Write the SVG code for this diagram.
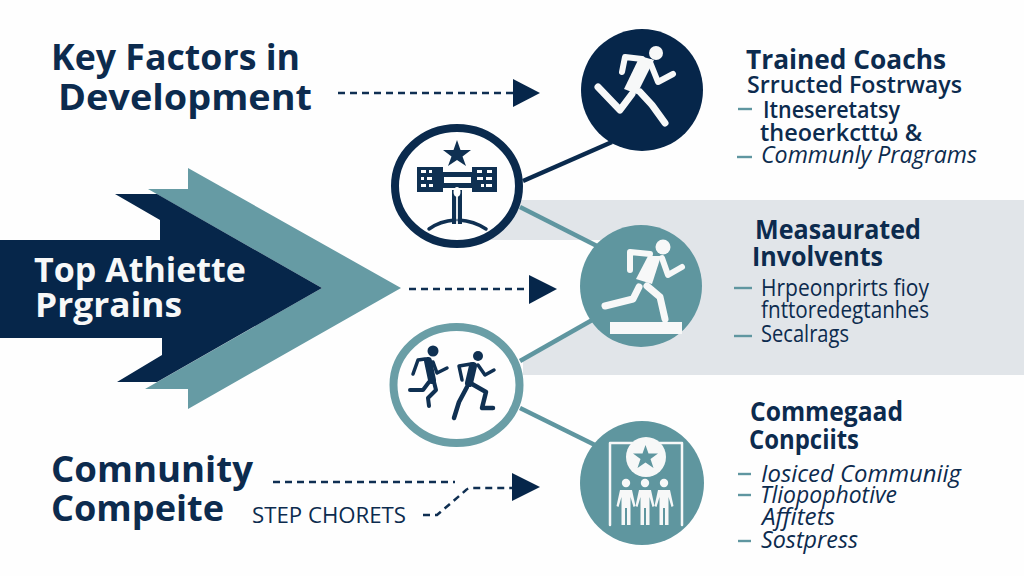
<svg xmlns="http://www.w3.org/2000/svg" width="1024" height="576" viewBox="0 0 1024 576">
<style>
text{fill:#0c2b4e;font-family:"Open Sans","Noto Sans","Liberation Sans",sans-serif}
.h1{font-size:36px;font-weight:700}
.h2{font-size:26px;font-weight:700}
.h3{font-size:24px;font-weight:600}
.b{font-size:23px;font-weight:400}
.i{font-size:23px;font-weight:400;font-style:italic}
.w{fill:#f7f8f8;font-size:34px;font-weight:700}
.dash{fill:none;stroke:#0f2f52;stroke-width:2.500;stroke-dasharray:7 5}
.tri{fill:#06264a}
.link{fill:none;stroke-width:4.5}
.bul{stroke:#5f96a0;stroke-width:2.4;fill:none}
.wl{fill:none;stroke:#f7f8f8;stroke-linecap:round;stroke-linejoin:round}
.nl{fill:none;stroke:#0f3052;stroke-linecap:round;stroke-linejoin:round}
</style>
<defs>
<g id="person">
<circle cx="0" cy="0" r="4.2" fill="#f7f8f8"/>
<path d="M-6 7H6L9.500 23 7.500 24 4.500 14V42H1V25H-1V42H-4.500V14L-7.500 24-9.500 23Z" fill="#f7f8f8"/>
</g>
</defs>
<rect width="1024" height="576" fill="#fefefe"/>
<polygon id="band" points="490,200 1024,200 1024,375 523,375 523,361 600,316 600,240 490,240" fill="#e1e5e9"/>

<g id="connectors">
<path class="link" stroke="#0a2a4d" d="M523 181L612 142"/>
<path class="link" stroke="#5f96a0" d="M520 207L597 246"/>
<path class="link" stroke="#5f96a0" d="M520 361L594 319"/>
<path class="link" stroke="#5f96a0" d="M520 408L597 446"/>
<path class="dash" d="M338 93H513"/>
<path class="dash" d="M409 289H529"/>
<path class="dash" d="M273 482H455"/>
<path class="dash" d="M423 515H437L465 491Q467 488 472 488H512"/>
<polygon class="tri" points="513,79 540,93 513,107"/>
<polygon class="tri" points="529,275 557,289 529,304"/>
<polygon class="tri" points="512,473 540,487 512,501"/>
</g>

<g id="main-arrow">
<polygon points="188,168 401,288 188,409 188,389 145,389 322,288 148,189 188,189" fill="#669ba4"/>
<polygon points="115,194 157,194 322,288 157,382 117,382 162,355 162,338 0,338 0,240 160,240 160,220" fill="#06264a"/>
<text class="w" x="34" y="282" textLength="212" lengthAdjust="spacingAndGlyphs">Top Athiette</text>
<text class="w" x="35" y="317" textLength="147" lengthAdjust="spacingAndGlyphs">Prgrains</text>
</g>

<g id="title-key">
<text class="h1" x="51" y="70" textLength="249" lengthAdjust="spacingAndGlyphs">Key Factors in</text>
<text class="h1" x="58" y="110" textLength="254" lengthAdjust="spacingAndGlyphs">Development</text>
</g>

<g id="title-community">
<text class="h1" x="51" y="482" textLength="202" lengthAdjust="spacingAndGlyphs">Comnunity</text>
<text class="h1" x="51" y="521" textLength="173" lengthAdjust="spacingAndGlyphs">Compeite</text>
<text x="252" y="523" font-size="22" textLength="154" lengthAdjust="spacingAndGlyphs">STEP CHORETS</text>
</g>

<g id="node-runner-top">
<circle cx="642" cy="90" r="61" fill="#06264a"/>
<circle cx="656" cy="53" r="7" fill="#f7f8f8"/>
<polygon points="640,56 654,60 637,94 624,89" fill="#f7f8f8"/>
<path class="wl" stroke-width="6" d="M642 59L625 57 622 72"/>
<path class="wl" stroke-width="6" d="M650 62L658 82 673 74"/>
<path class="wl" stroke-width="7" d="M598 87L620 110 632 94"/>
<path class="wl" stroke-width="7" d="M640 92L652 105 665 123"/>
</g>

<g id="node-runner-mid">
<circle cx="641" cy="286" r="61" fill="#5f969f"/>
<circle cx="663" cy="247" r="7.500" fill="#f7f8f8"/>
<polygon points="648,256 661,256 652,284 636,279" fill="#f7f8f8"/>
<path class="wl" stroke-width="6" d="M650 254L630 252 630 270"/>
<path class="wl" stroke-width="6" d="M662 258L668 275 682 267"/>
<path class="wl" stroke-width="7" d="M639 287L633 299 605 306"/>
<path class="wl" stroke-width="7" d="M647 286L660 297 665 319"/>
<rect x="610" y="322" width="72" height="12" fill="#f7f8f8"/>
</g>

<g id="node-group-bottom">
<circle cx="642" cy="483" r="62" fill="#5f969f"/>
<path class="wl" stroke-width="2.500" d="M610 525V443H682V525"/>
<circle cx="646" cy="457" r="20" fill="#f7f8f8"/>
<polygon points="645.500,445 648.500,453.500 658,453.500 650.500,459 653.500,468 645.500,462.500 637.500,468 640.500,459 633,453.500 642.500,453.500" fill="#5f969f"/>
<use href="#person" x="626" y="483"/>
<use href="#person" x="645" y="483"/>
<use href="#person" x="664" y="483"/>
</g>

<g id="node-scoreboard">
<ellipse cx="457" cy="186" rx="62" ry="58" fill="#fefefe" stroke="#0a2a4d" stroke-width="8"/>
<polygon points="457,140 460.500,150 471,150 462.500,156.500 466,166 457,160 448,166 451.500,156.500 443,150 453.500,150" fill="#0f3052"/>
<rect x="417" y="167" width="26" height="25" fill="#0f3052"/>
<rect x="472" y="167" width="25" height="25" fill="#0f3052"/>
<rect x="443" y="172" width="29" height="16" fill="#0f3052"/>
<rect x="444" y="177" width="27" height="6" fill="#fefefe"/>
<path d="M421 170h5v3h-5zM429 170h3v3h-3zM421 177h3v3h-3zM427 177h5v3h-5zM421 184h5v3h-5zM429 184h4v3h-4zM477 170h5v3h-5zM487 170h5v3h-5zM477 177h6v3h-6zM486 177h6v3h-6zM481 184h3v3h-3zM486 184h6v3h-6z" fill="#fefefe"/>
<rect x="452" y="190" width="10" height="34" fill="#0f3052"/>
<ellipse cx="457" cy="192" rx="3.500" ry="5" fill="#fefefe"/>
<path d="M457 196V224" stroke="#fefefe" stroke-width="1.800"/>
<path class="nl" stroke-width="3.500" d="M429 229Q440 221 455 220M459 220Q474 221 486 229"/>
</g>

<g id="node-runners">
<ellipse cx="456.500" cy="385" rx="63" ry="58" fill="#fefefe" stroke="#6a9ea6" stroke-width="8"/>
<circle cx="433" cy="351" r="5.500" fill="#0f3052"/>
<path class="nl" stroke-width="8" d="M428 361L432 380"/>
<path class="nl" stroke-width="3.500" d="M425 359L418 360 413 374M433 362L437 373 447 368"/>
<path class="nl" stroke-width="4" d="M429 382L423 390 410 390M434 382L436 390 428 398 429 406"/>
<circle cx="478" cy="356" r="5" fill="#0f3052"/>
<path class="nl" stroke-width="8" d="M473 366L469 383"/>
<path class="nl" stroke-width="3.500" d="M471 364L459 366 462 380M478 365L485 375 494 370"/>
<path class="nl" stroke-width="4.500" d="M472 384L486 392 482 408 493 408M467 387L459 402 454 418"/>
</g>

<g id="text-top">
<text class="h2" x="746" y="69" textLength="200" lengthAdjust="spacingAndGlyphs">Trained Coachs</text>
<text class="h3" x="747" y="93" textLength="215" lengthAdjust="spacingAndGlyphs">Srructed Fostrways</text>
<path class="bul" d="M738 109H752"/>
<text class="h3" x="763" y="118" textLength="137" lengthAdjust="spacingAndGlyphs">Itneseretatsy</text>
<text class="h3" x="760" y="141" textLength="162" lengthAdjust="spacingAndGlyphs">theoerkcttω &amp;</text>
<path class="bul" d="M737 157H752"/>
<text class="i" x="761" y="163" textLength="216" lengthAdjust="spacingAndGlyphs">Communly Pragrams</text>
</g>

<g id="text-mid">
<text class="h2" x="755" y="239" textLength="166" lengthAdjust="spacingAndGlyphs">Measaurated</text>
<text class="h2" x="752" y="266" textLength="131" lengthAdjust="spacingAndGlyphs">Involvents</text>
<path class="bul" d="M734 288H752"/>
<text class="b" x="761" y="296" textLength="168" lengthAdjust="spacingAndGlyphs">Hrpeonprirts fioy</text>
<text class="b" x="761" y="318" textLength="168" lengthAdjust="spacingAndGlyphs">fnttoredegtanhes</text>
<path class="bul" d="M734 336H752"/>
<text class="b" x="761" y="342" textLength="88" lengthAdjust="spacingAndGlyphs">Secalrags</text>
</g>

<g id="text-bottom">
<text class="h2" x="750" y="421" textLength="153" lengthAdjust="spacingAndGlyphs">Commegaad</text>
<text class="h2" x="749" y="449" textLength="110" lengthAdjust="spacingAndGlyphs">Conpciits</text>
<path class="bul" d="M738 474H751"/>
<text class="i" x="761" y="482" textLength="200" lengthAdjust="spacingAndGlyphs">Iosiced Communiig</text>
<path class="bul" d="M738 495H751"/>
<text class="i" x="760" y="503" textLength="137" lengthAdjust="spacingAndGlyphs">Tliopophotive</text>
<text class="i" x="762" y="525" textLength="73" lengthAdjust="spacingAndGlyphs">Affitets</text>
<path class="bul" d="M738 541H751"/>
<text class="i" x="761" y="548" textLength="97" lengthAdjust="spacingAndGlyphs">Sostpress</text>
</g>
</svg>
